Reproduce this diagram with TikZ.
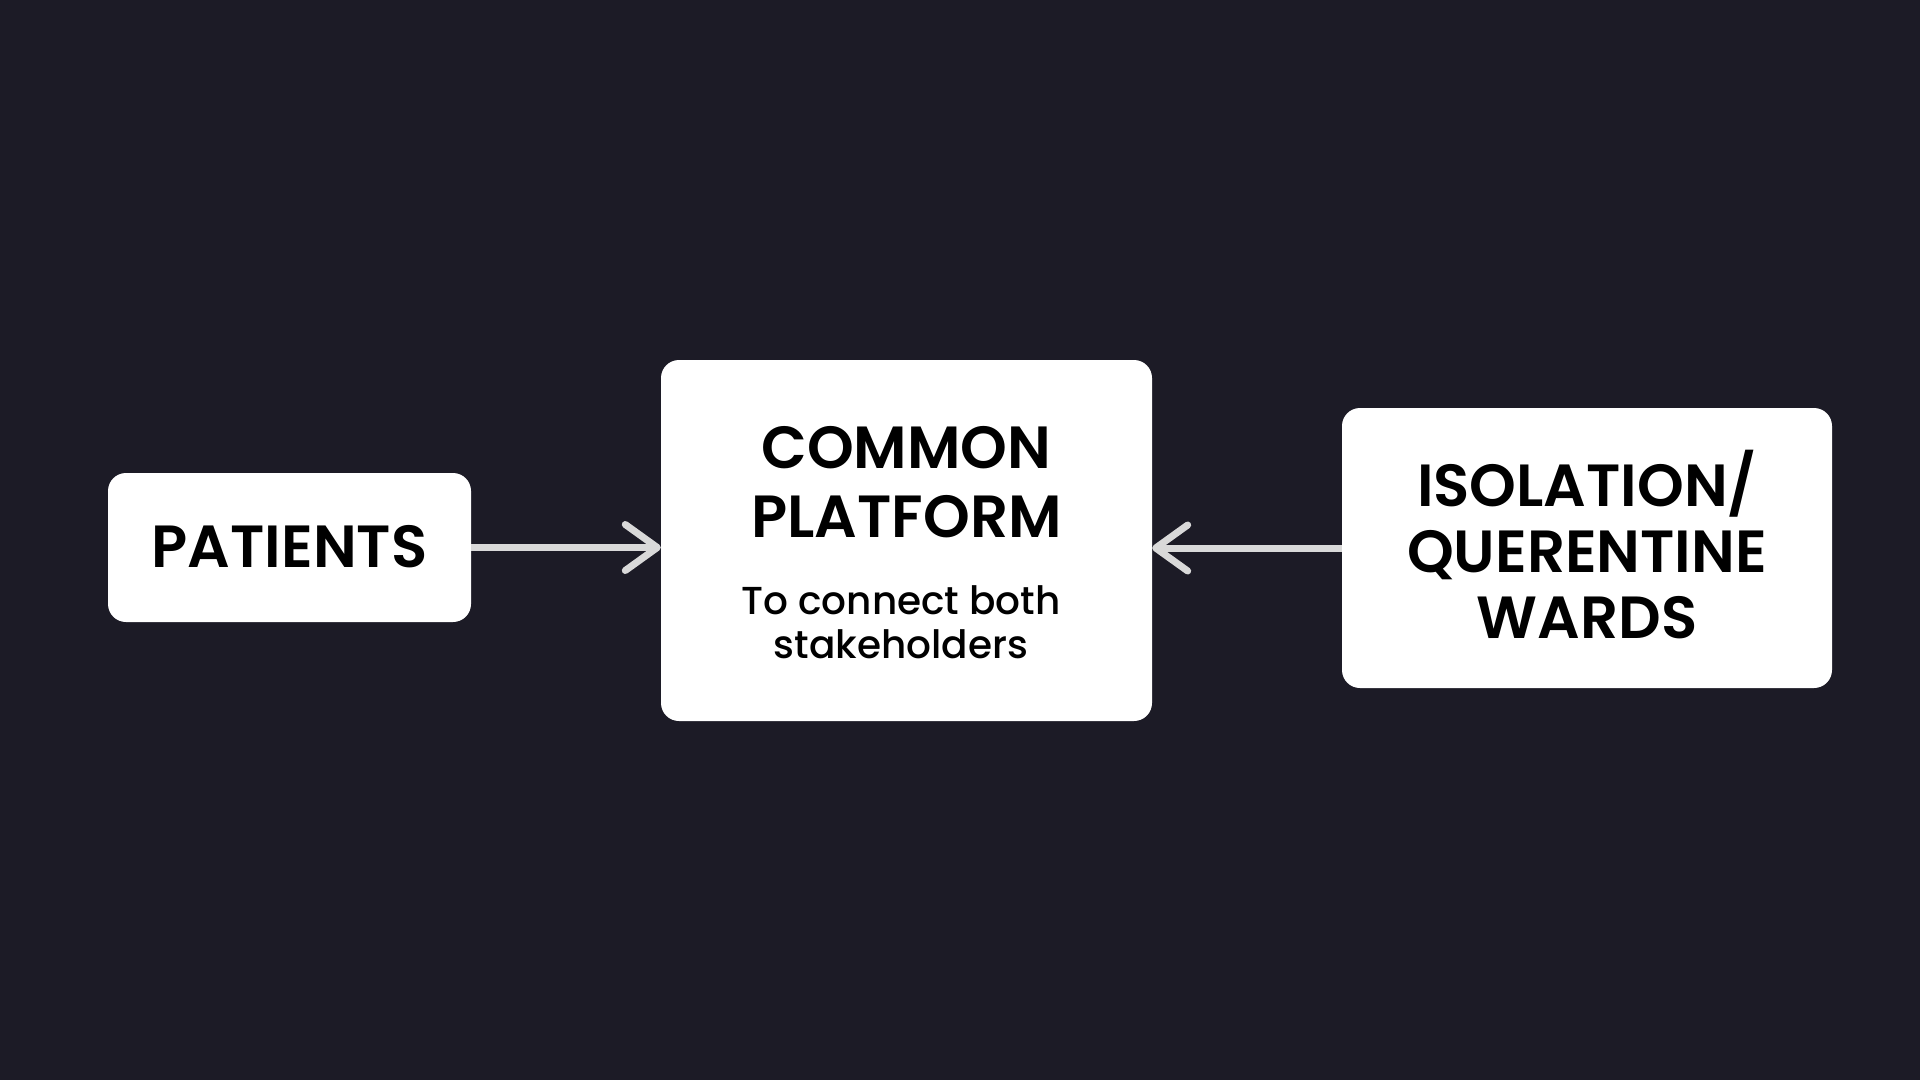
\documentclass[tikz,border=0pt]{standalone}
\usepackage{fontspec}
\setmainfont{Poppins}[BoldFont={Poppins SemiBold}]
\newfontfamily\submedium{Poppins Medium}
\usetikzlibrary{arrows.meta}
\definecolor{bgdark}{HTML}{1C1B26}
\definecolor{arrowgray}{HTML}{D9D9D9}
\tikzset{
  card/.style={fill=white, draw=none, rounded corners=18pt, inner sep=0pt},
  titletext/.style={font=\fontsize{59.5}{69}\selectfont\bfseries, text=black, align=center, inner sep=0pt},
  isotext/.style={titletext, font=\fontsize{59.5}{66}\selectfont\bfseries},
  subtext/.style={font=\fontsize{39}{44}\selectfont\submedium, text=black, align=center, inner sep=0pt},
  conn/.style={draw=arrowgray, line width=7pt,
    -{Straight Barb[length=32pt, width=46pt, round]}}
}
\begin{document}
\begin{tikzpicture}[x=1pt, y=-1pt]
  \useasboundingbox[fill=bgdark] (0,0) rectangle (1920,1080);
  % boxes
  \node[card, minimum width=363pt, minimum height=149pt] (pat) at (289.5,547.5) {};
  \node[card, minimum width=491pt, minimum height=361pt] (cp) at (906.5,540.5) {};
  \node[card, minimum width=490pt, minimum height=280pt] (iso) at (1587,548) {};
  % texts
  \node[titletext] (patT) at (289.5,547) {PATIENTS};
  \node[titletext] (cpT) at (906.5,482) {COMMON\\PLATFORM};
  \node[subtext] (cpS) at (901,622) {To connect both\\stakeholders};
  \node[isotext] (isoT) at (1587,545) {ISOLATION/\\QUERENTINE\\WARDS};
  % connectors
  \draw[conn] (pat.east) -- (pat.east -| cp.west);
  \draw[conn] (iso.west) -- (iso.west -| cp.east);
\end{tikzpicture}
\end{document}
